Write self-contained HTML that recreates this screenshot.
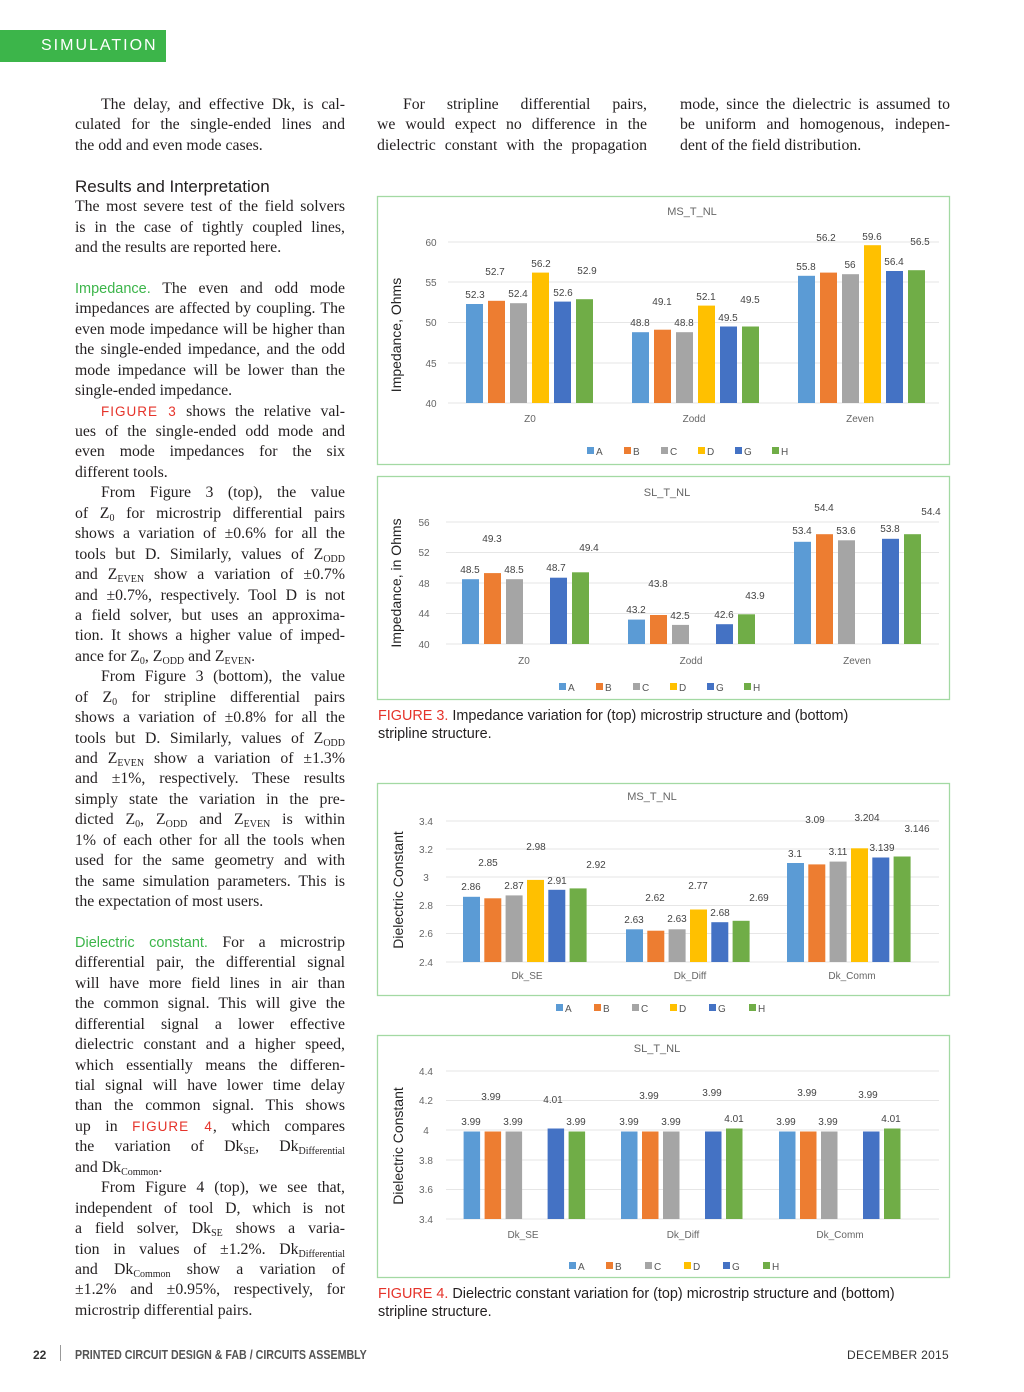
<!DOCTYPE html>
<html><head><meta charset="utf-8">
<style>
*{margin:0;padding:0;box-sizing:border-box}
body{width:1024px;height:1392px;background:#fff;position:relative;overflow:hidden;font-family:"Liberation Serif",serif;color:#231f20}
.col{position:absolute;width:270px;font-size:15.8px;line-height:20.45px}
.col div{height:20.45px;text-align:justify;text-align-last:justify;white-space:normal;overflow:visible}
.col div.e{text-align-last:left}
.col div.i{text-indent:26px}
sub{font-size:10px;line-height:0;vertical-align:-3px}
.g{color:#3cb54a;font-family:"Liberation Sans",sans-serif;font-size:14.5px}
.f{color:#e5332a;font-family:"Liberation Sans",sans-serif;font-size:13.5px;letter-spacing:1px}
.h{font-family:"Liberation Sans",sans-serif;font-size:17px;text-align-last:left!important}
.cap{position:absolute;left:378px;font:14.4px/18px "Liberation Sans",sans-serif;color:#231f20}
.cap b{color:#e5332a;font-weight:normal}
</style></head><body>
<div style="position:absolute;left:0;top:30px;width:166px;height:32px;background:#3cb54a;color:#fff;font:16px/32px 'Liberation Sans',sans-serif;letter-spacing:2px;padding-left:41px">SIMULATION</div>

<div class="col" style="left:75px;top:95px">
<div class="i">The delay, and effective Dk, is cal-</div>
<div>culated for the single-ended lines and</div>
<div class="e">the odd and even mode cases.</div>
<div></div>
<div class="h">Results and Interpretation</div>
<div>The most severe test of the field solvers</div>
<div>is in the case of tightly coupled lines,</div>
<div class="e">and the results are reported here.</div>
<div></div>
<div><span class="g">Impedance.</span> The even and odd mode</div>
<div>impedances are affected by coupling. The</div>
<div>even mode impedance will be higher than</div>
<div>the single-ended impedance, and the odd</div>
<div>mode impedance will be lower than the</div>
<div class="e">single-ended impedance.</div>
<div class="i"><span class="f">FIGURE 3</span> shows the relative val-</div>
<div>ues of the single-ended odd mode and</div>
<div>even mode impedances for the six</div>
<div class="e">different tools.</div>
<div class="i">From Figure 3 (top), the value</div>
<div>of Z<sub>0</sub> for microstrip differential pairs</div>
<div>shows a variation of ±0.6% for all the</div>
<div>tools but D. Similarly, values of Z<sub>ODD</sub></div>
<div>and Z<sub>EVEN</sub> show a variation of ±0.7%</div>
<div>and ±0.7%, respectively. Tool D is not</div>
<div>a field solver, but uses an approxima-</div>
<div>tion. It shows a higher value of imped-</div>
<div class="e">ance for Z<sub>0</sub>, Z<sub>ODD</sub> and Z<sub>EVEN</sub>.</div>
<div class="i">From Figure 3 (bottom), the value</div>
<div>of Z<sub>0</sub> for stripline differential pairs</div>
<div>shows a variation of ±0.8% for all the</div>
<div>tools but D. Similarly, values of Z<sub>ODD</sub></div>
<div>and Z<sub>EVEN</sub> show a variation of ±1.3%</div>
<div>and ±1%, respectively. These results</div>
<div>simply state the variation in the pre-</div>
<div>dicted Z<sub>0</sub>, Z<sub>ODD</sub> and Z<sub>EVEN</sub> is within</div>
<div>1% of each other for all the tools when</div>
<div>used for the same geometry and with</div>
<div>the same simulation parameters. This is</div>
<div class="e">the expectation of most users.</div>
<div></div>
<div><span class="g">Dielectric constant.</span> For a microstrip</div>
<div>differential pair, the differential signal</div>
<div>will have more field lines in air than</div>
<div>the common signal. This will give the</div>
<div>differential signal a lower effective</div>
<div>dielectric constant and a higher speed,</div>
<div>which essentially means the differen-</div>
<div>tial signal will have lower time delay</div>
<div>than the common signal. This shows</div>
<div>up in <span class="f">FIGURE 4</span>, which compares</div>
<div>the variation of Dk<sub>SE</sub>, Dk<sub>Differential</sub></div>
<div class="e">and Dk<sub>Common</sub>.</div>
<div class="i">From Figure 4 (top), we see that,</div>
<div>independent of tool D, which is not</div>
<div>a field solver, Dk<sub>SE</sub> shows a varia-</div>
<div>tion in values of ±1.2%. Dk<sub>Differential</sub></div>
<div>and Dk<sub>Common</sub> show a variation of</div>
<div>±1.2% and ±0.95%, respectively, for</div>
<div class="e">microstrip differential pairs.</div>
</div>

<div class="col" style="left:377px;top:95px">
<div class="i">For stripline differential pairs,</div>
<div>we would expect no difference in the</div>
<div>dielectric constant with the propagation</div>
</div>
<div class="col" style="left:680px;top:95px">
<div>mode, since the dielectric is assumed to</div>
<div>be uniform and homogenous, indepen-</div>
<div class="e">dent of the field distribution.</div>
</div>

<svg width="1024" height="1392" style="position:absolute;left:0;top:0" font-family="Liberation Sans, sans-serif">
<g fill="none" stroke="#a3d9a3" stroke-width="1.3">
<rect x="377.5" y="196.5" width="572" height="268"/>
<rect x="377.5" y="476.5" width="572" height="223"/>
<rect x="377.5" y="783.5" width="572" height="212"/>
<rect x="377.5" y="1035.5" width="572" height="242"/>
</g>
<!-- Chart 1 -->
<g stroke="#e6e6e6" stroke-width="1">
<line x1="448" x2="939" y1="242" y2="242"/><line x1="448" x2="939" y1="282" y2="282"/><line x1="448" x2="939" y1="322.5" y2="322.5"/><line x1="448" x2="939" y1="363" y2="363"/><line x1="448" x2="939" y1="403" y2="403"/>
</g>
<g font-size="10" fill="#666" text-anchor="middle">
<text x="431" y="246">60</text><text x="431" y="286">55</text><text x="431" y="326">50</text><text x="431" y="367">45</text><text x="431" y="407">40</text>
<text x="530" y="422">Z0</text><text x="694" y="422">Zodd</text><text x="860" y="422">Zeven</text>
<text x="692" y="215" font-size="11">MS_T_NL</text>
</g>
<text transform="translate(401,335) rotate(-90)" text-anchor="middle" font-size="14" fill="#222">Impedance, Ohms</text>
<g>
<rect x="466" y="304" width="17" height="99" fill="#5b9bd5"/><rect x="488" y="300.8" width="17" height="102.2" fill="#ed7d31"/><rect x="510" y="303.2" width="17" height="99.8" fill="#a5a5a5"/><rect x="532" y="272.6" width="17" height="130.4" fill="#ffc000"/><rect x="554" y="301.6" width="17" height="101.4" fill="#4472c4"/><rect x="576" y="299.2" width="17" height="103.8" fill="#70ad47"/>
<rect x="632" y="332.2" width="17" height="70.8" fill="#5b9bd5"/><rect x="654" y="329.7" width="17" height="73.3" fill="#ed7d31"/><rect x="676" y="332.2" width="17" height="70.8" fill="#a5a5a5"/><rect x="698" y="305.6" width="17" height="97.4" fill="#ffc000"/><rect x="720" y="326.5" width="17" height="76.5" fill="#4472c4"/><rect x="742" y="326.5" width="17" height="76.5" fill="#70ad47"/>
<rect x="798" y="275.8" width="17" height="127.2" fill="#5b9bd5"/><rect x="820" y="272.6" width="17" height="130.4" fill="#ed7d31"/><rect x="842" y="274.2" width="17" height="128.8" fill="#a5a5a5"/><rect x="864" y="245.2" width="17" height="157.8" fill="#ffc000"/><rect x="886" y="271" width="17" height="132" fill="#4472c4"/><rect x="908" y="270.2" width="17" height="132.8" fill="#70ad47"/>
</g>
<g font-size="10" fill="#444" text-anchor="middle">
<text x="475" y="298">52.3</text><text x="495" y="275">52.7</text><text x="518" y="297">52.4</text><text x="541" y="267">56.2</text><text x="563" y="296">52.6</text><text x="587" y="274">52.9</text>
<text x="640" y="326">48.8</text><text x="662" y="305">49.1</text><text x="684" y="326">48.8</text><text x="706" y="300">52.1</text><text x="728" y="321">49.5</text><text x="750" y="303">49.5</text>
<text x="806" y="270">55.8</text><text x="826" y="241">56.2</text><text x="850" y="268">56</text><text x="872" y="240">59.6</text><text x="894" y="265">56.4</text><text x="920" y="245">56.5</text>
</g>
<g font-size="10" fill="#555">
<rect x="587" y="447" width="7" height="7" fill="#5b9bd5"/><text x="596" y="455">A</text>
<rect x="624" y="447" width="7" height="7" fill="#ed7d31"/><text x="633" y="455">B</text>
<rect x="661" y="447" width="7" height="7" fill="#a5a5a5"/><text x="670" y="455">C</text>
<rect x="698" y="447" width="7" height="7" fill="#ffc000"/><text x="707" y="455">D</text>
<rect x="735" y="447" width="7" height="7" fill="#4472c4"/><text x="744" y="455">G</text>
<rect x="772" y="447" width="7" height="7" fill="#70ad47"/><text x="781" y="455">H</text>
</g>

<!-- Chart 2 -->
<g stroke="#e6e6e6" stroke-width="1">
<line x1="446" x2="939" y1="522" y2="522"/><line x1="446" x2="939" y1="552.5" y2="552.5"/><line x1="446" x2="939" y1="583" y2="583"/><line x1="446" x2="939" y1="613.5" y2="613.5"/><line x1="446" x2="939" y1="644" y2="644"/>
</g>
<g font-size="10" fill="#666" text-anchor="middle">
<text x="424" y="526">56</text><text x="424" y="556">52</text><text x="424" y="587">48</text><text x="424" y="617">44</text><text x="424" y="648">40</text>
<text x="524" y="664">Z0</text><text x="691" y="664">Zodd</text><text x="857" y="664">Zeven</text>
<text x="667" y="496" font-size="11">SL_T_NL</text>
</g>
<text transform="translate(401,583) rotate(-90)" text-anchor="middle" font-size="14" fill="#222">Impedance, in Ohms</text>
<g>
<rect x="462" y="579.2" width="17" height="64.8" fill="#5b9bd5"/><rect x="484" y="573.1" width="17" height="70.9" fill="#ed7d31"/><rect x="506" y="579.2" width="17" height="64.8" fill="#a5a5a5"/><rect x="550" y="577.7" width="17" height="66.3" fill="#4472c4"/><rect x="572" y="572.3" width="17" height="71.7" fill="#70ad47"/>
<rect x="628" y="619.6" width="17" height="24.4" fill="#5b9bd5"/><rect x="650" y="615" width="17" height="29" fill="#ed7d31"/><rect x="672" y="624.9" width="17" height="19.1" fill="#a5a5a5"/><rect x="716" y="624.2" width="17" height="19.8" fill="#4472c4"/><rect x="738" y="614.3" width="17" height="29.7" fill="#70ad47"/>
<rect x="794" y="541.8" width="17" height="102.2" fill="#5b9bd5"/><rect x="816" y="534.2" width="17" height="109.8" fill="#ed7d31"/><rect x="838" y="540.3" width="17" height="103.7" fill="#a5a5a5"/><rect x="882" y="538.8" width="17" height="105.2" fill="#4472c4"/><rect x="904" y="534.2" width="17" height="109.8" fill="#70ad47"/>
</g>
<g font-size="10" fill="#444" text-anchor="middle">
<text x="470" y="573">48.5</text><text x="492" y="542">49.3</text><text x="514" y="573">48.5</text><text x="556" y="571">48.7</text><text x="589" y="551">49.4</text>
<text x="636" y="613">43.2</text><text x="658" y="587">43.8</text><text x="680" y="619">42.5</text><text x="724" y="618">42.6</text><text x="755" y="599">43.9</text>
<text x="802" y="534">53.4</text><text x="824" y="511">54.4</text><text x="846" y="534">53.6</text><text x="890" y="532">53.8</text><text x="931" y="515">54.4</text>
</g>
<g font-size="10" fill="#555">
<rect x="559" y="683" width="7" height="7" fill="#5b9bd5"/><text x="568" y="691">A</text>
<rect x="596" y="683" width="7" height="7" fill="#ed7d31"/><text x="605" y="691">B</text>
<rect x="633" y="683" width="7" height="7" fill="#a5a5a5"/><text x="642" y="691">C</text>
<rect x="670" y="683" width="7" height="7" fill="#ffc000"/><text x="679" y="691">D</text>
<rect x="707" y="683" width="7" height="7" fill="#4472c4"/><text x="716" y="691">G</text>
<rect x="744" y="683" width="7" height="7" fill="#70ad47"/><text x="753" y="691">H</text>
</g>

<!-- Chart 3 -->
<g stroke="#e6e6e6" stroke-width="1">
<line x1="446" x2="939" y1="821" y2="821"/><line x1="446" x2="939" y1="849" y2="849"/><line x1="446" x2="939" y1="877" y2="877"/><line x1="446" x2="939" y1="905.5" y2="905.5"/><line x1="446" x2="939" y1="933.5" y2="933.5"/><line x1="446" x2="939" y1="962" y2="962"/>
</g>
<g font-size="10" fill="#666" text-anchor="middle">
<text x="426" y="825">3.4</text><text x="426" y="853">3.2</text><text x="426" y="881">3</text><text x="426" y="909">2.8</text><text x="426" y="937">2.6</text><text x="426" y="966">2.4</text>
<text x="527" y="979">Dk_SE</text><text x="690" y="979">Dk_Diff</text><text x="852" y="979">Dk_Comm</text>
<text x="652" y="800" font-size="11">MS_T_NL</text>
</g>
<text transform="translate(403,890) rotate(-90)" text-anchor="middle" font-size="14" fill="#222">Dielectric Constant</text>
<g>
<rect x="463" y="896.8" width="17" height="65.2" fill="#5b9bd5"/><rect x="484.3" y="898.3" width="17" height="63.7" fill="#ed7d31"/><rect x="505.6" y="895.4" width="17" height="66.6" fill="#a5a5a5"/><rect x="527" y="879.9" width="17" height="82.1" fill="#ffc000"/><rect x="548.3" y="889.8" width="17" height="72.2" fill="#4472c4"/><rect x="569.6" y="888.4" width="17" height="73.6" fill="#70ad47"/>
<rect x="626" y="929.3" width="17" height="32.7" fill="#5b9bd5"/><rect x="647.3" y="930.7" width="17" height="31.3" fill="#ed7d31"/><rect x="668.6" y="929.3" width="17" height="32.7" fill="#a5a5a5"/><rect x="690" y="909.5" width="17" height="52.5" fill="#ffc000"/><rect x="711.3" y="922.2" width="17" height="39.8" fill="#4472c4"/><rect x="732.6" y="920.8" width="17" height="41.2" fill="#70ad47"/>
<rect x="787" y="863" width="17" height="99" fill="#5b9bd5"/><rect x="808.3" y="864.4" width="17" height="97.6" fill="#ed7d31"/><rect x="829.6" y="861.6" width="17" height="100.4" fill="#a5a5a5"/><rect x="851" y="848.3" width="17" height="113.7" fill="#ffc000"/><rect x="872.3" y="857.5" width="17" height="104.5" fill="#4472c4"/><rect x="893.6" y="856.5" width="17" height="105.5" fill="#70ad47"/>
</g>
<g font-size="10" fill="#444" text-anchor="middle">
<text x="471" y="890">2.86</text><text x="488" y="866">2.85</text><text x="514" y="889">2.87</text><text x="536" y="850">2.98</text><text x="557" y="884">2.91</text><text x="596" y="868">2.92</text>
<text x="634" y="923">2.63</text><text x="655" y="901">2.62</text><text x="677" y="922">2.63</text><text x="698" y="889">2.77</text><text x="720" y="916">2.68</text><text x="759" y="901">2.69</text>
<text x="795" y="857">3.1</text><text x="815" y="823">3.09</text><text x="838" y="855">3.11</text><text x="867" y="821">3.204</text><text x="882" y="851">3.139</text><text x="917" y="832">3.146</text>
</g>
<g font-size="10" fill="#555">
<rect x="556" y="1004" width="7" height="7" fill="#5b9bd5"/><text x="565" y="1012">A</text>
<rect x="594" y="1004" width="7" height="7" fill="#ed7d31"/><text x="603" y="1012">B</text>
<rect x="632" y="1004" width="7" height="7" fill="#a5a5a5"/><text x="641" y="1012">C</text>
<rect x="670" y="1004" width="7" height="7" fill="#ffc000"/><text x="679" y="1012">D</text>
<rect x="709" y="1004" width="7" height="7" fill="#4472c4"/><text x="718" y="1012">G</text>
<rect x="749" y="1004" width="7" height="7" fill="#70ad47"/><text x="758" y="1012">H</text>
</g>

<!-- Chart 4 -->
<g stroke="#e6e6e6" stroke-width="1">
<line x1="446" x2="939" y1="1071" y2="1071"/><line x1="446" x2="939" y1="1100.5" y2="1100.5"/><line x1="446" x2="939" y1="1130" y2="1130"/><line x1="446" x2="939" y1="1160" y2="1160"/><line x1="446" x2="939" y1="1189.5" y2="1189.5"/><line x1="446" x2="939" y1="1219" y2="1219"/>
</g>
<g font-size="10" fill="#666" text-anchor="middle">
<text x="426" y="1075">4.4</text><text x="426" y="1104">4.2</text><text x="426" y="1134">4</text><text x="426" y="1164">3.8</text><text x="426" y="1193">3.6</text><text x="426" y="1223">3.4</text>
<text x="523" y="1238">Dk_SE</text><text x="683" y="1238">Dk_Diff</text><text x="840" y="1238">Dk_Comm</text>
<text x="657" y="1052" font-size="11">SL_T_NL</text>
</g>
<text transform="translate(403,1146) rotate(-90)" text-anchor="middle" font-size="14" fill="#222">Dielectric Constant</text>
<g>
<rect x="463.6" y="1131.5" width="16.5" height="87.5" fill="#5b9bd5"/><rect x="484.6" y="1131.5" width="16.5" height="87.5" fill="#ed7d31"/><rect x="505.6" y="1131.5" width="16.5" height="87.5" fill="#a5a5a5"/><rect x="547.6" y="1128.5" width="16.5" height="90.5" fill="#4472c4"/><rect x="568.6" y="1131.5" width="16.5" height="87.5" fill="#70ad47"/>
<rect x="621" y="1131.5" width="16.5" height="87.5" fill="#5b9bd5"/><rect x="642" y="1131.5" width="16.5" height="87.5" fill="#ed7d31"/><rect x="663" y="1131.5" width="16.5" height="87.5" fill="#a5a5a5"/><rect x="705" y="1131.5" width="16.5" height="87.5" fill="#4472c4"/><rect x="726" y="1128.5" width="16.5" height="90.5" fill="#70ad47"/>
<rect x="779" y="1131.5" width="16.5" height="87.5" fill="#5b9bd5"/><rect x="800" y="1131.5" width="16.5" height="87.5" fill="#ed7d31"/><rect x="821" y="1131.5" width="16.5" height="87.5" fill="#a5a5a5"/><rect x="863" y="1131.5" width="16.5" height="87.5" fill="#4472c4"/><rect x="884" y="1128.5" width="16.5" height="90.5" fill="#70ad47"/>
</g>
<g font-size="10" fill="#444" text-anchor="middle">
<text x="471" y="1125">3.99</text><text x="491" y="1100">3.99</text><text x="513" y="1125">3.99</text><text x="553" y="1103">4.01</text><text x="576" y="1125">3.99</text>
<text x="629" y="1125">3.99</text><text x="649" y="1099">3.99</text><text x="671" y="1125">3.99</text><text x="712" y="1096">3.99</text><text x="734" y="1122">4.01</text>
<text x="786" y="1125">3.99</text><text x="807" y="1096">3.99</text><text x="828" y="1125">3.99</text><text x="868" y="1098">3.99</text><text x="891" y="1122">4.01</text>
</g>
<g font-size="10" fill="#555">
<rect x="569" y="1262" width="7" height="7" fill="#5b9bd5"/><text x="578" y="1270">A</text>
<rect x="606" y="1262" width="7" height="7" fill="#ed7d31"/><text x="615" y="1270">B</text>
<rect x="645" y="1262" width="7" height="7" fill="#a5a5a5"/><text x="654" y="1270">C</text>
<rect x="684" y="1262" width="7" height="7" fill="#ffc000"/><text x="693" y="1270">D</text>
<rect x="723" y="1262" width="7" height="7" fill="#4472c4"/><text x="732" y="1270">G</text>
<rect x="763" y="1262" width="7" height="7" fill="#70ad47"/><text x="772" y="1270">H</text>
</g>
</svg>

<div class="cap" style="top:707px"><b>FIGURE 3.</b> Impedance variation for (top) microstrip structure and (bottom)<br>stripline structure.</div>
<div class="cap" style="top:1285px"><b>FIGURE 4.</b> Dielectric constant variation for (top) microstrip structure and (bottom)<br>stripline structure.</div>

<div style="position:absolute;left:33px;top:1348px;font:bold 12px 'Liberation Sans',sans-serif;color:#333">22</div>
<div style="position:absolute;left:60px;top:1345px;width:1px;height:16px;background:#999"></div>
<div style="position:absolute;left:75px;top:1347px;font:bold 13px 'Liberation Sans',sans-serif;color:#555;transform:scaleX(0.82);transform-origin:0 0;white-space:nowrap">PRINTED CIRCUIT DESIGN &amp; FAB / CIRCUITS ASSEMBLY</div>
<div style="position:absolute;right:75px;top:1348px;font:12px 'Liberation Sans',sans-serif;color:#333;letter-spacing:0.3px">DECEMBER 2015</div>
</body></html>
